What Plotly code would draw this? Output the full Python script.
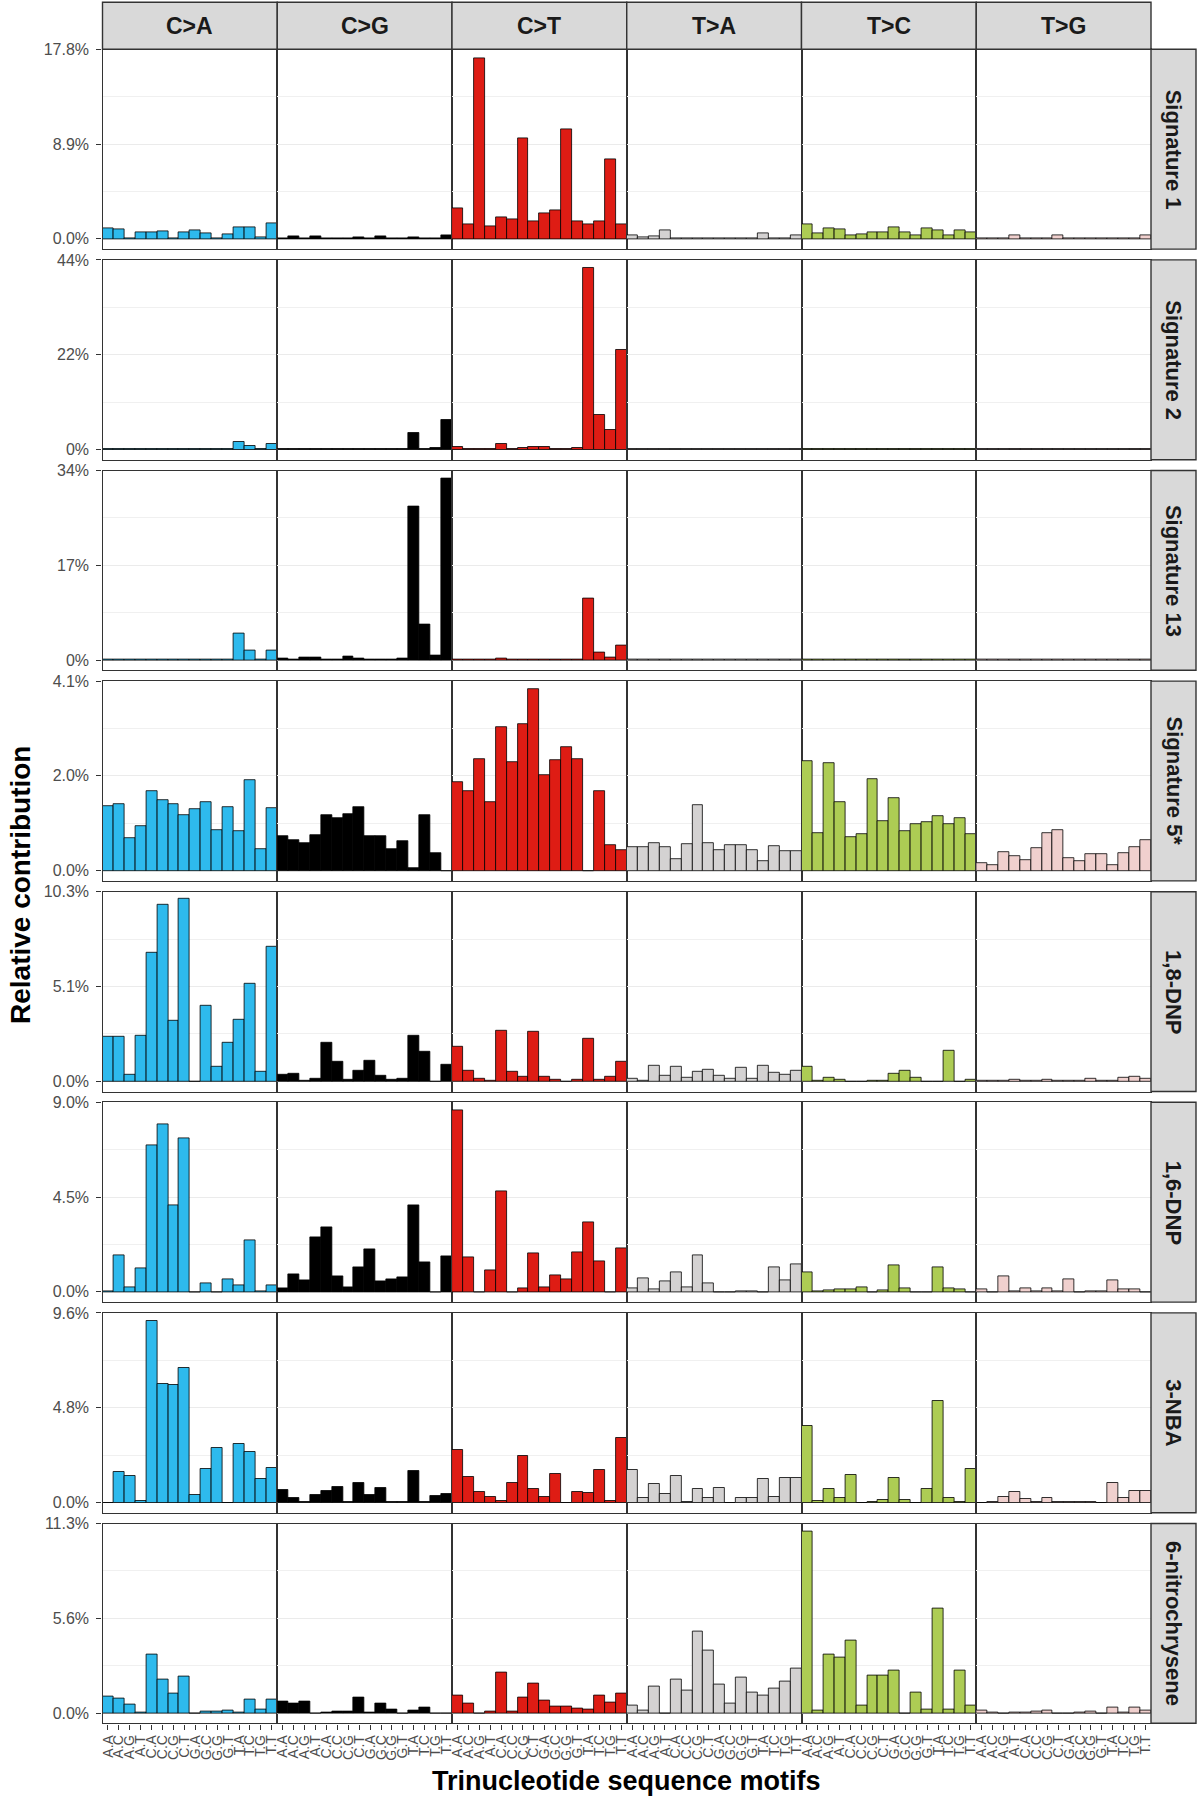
import plotly.graph_objects as go

W, H = 1198, 1800

mut_types = ["C>A", "C>G", "C>T", "T>A", "T>C", "T>G"]
mut_colors = ["#2EBAED", "#000000", "#DE1C14", "#D4D2D2", "#ADCC54", "#F0D0CE"]
contexts = ["A.A", "A.C", "A.G", "A.T", "C.A", "C.C", "C.G", "C.T",
            "G.A", "G.C", "G.G", "G.T", "T.A", "T.C", "T.G", "T.T"]
signatures = ["Signature 1", "Signature 2", "Signature 13", "Signature 5*",
              "1,8-DNP", "1,6-DNP", "3-NBA", "6-nitrochrysene"]
y_max = [17.8, 44, 34, 4.1, 10.3, 9.0, 9.6, 11.3]
y_ticktext = [["0.0%", "8.9%", "17.8%"], ["0%", "22%", "44%"], ["0%", "17%", "34%"],
              ["0.0%", "2.0%", "4.1%"], ["0.0%", "5.1%", "10.3%"], ["0.0%", "4.5%", "9.0%"],
              ["0.0%", "4.8%", "9.6%"], ["0.0%", "5.6%", "11.3%"]]

# relative contribution (%), 96 contexts per signature: C>A, C>G, C>T, T>A, T>C, T>G
sig_1 = [1.0, 0.86, 0.1, 0.57, 0.57, 0.67, 0.06, 0.57, 0.8, 0.5, 0.03, 0.45, 1.1, 1.05, 0.15, 1.5,
         0.1, 0.2, 0.05, 0.25, 0.1, 0.05, 0.05, 0.15, 0.05, 0.2, 0.02, 0.1, 0.12, 0.1, 0.05, 0.3,
         2.87, 1.38, 17.0, 1.14, 2.0, 1.8, 9.43, 1.65, 2.44, 2.71, 10.3, 1.69, 1.38, 1.69, 7.5, 1.34,
         0.3, 0.15, 0.2, 0.85, 0.05, 0.05, 0.05, 0.05, 0.05, 0.05, 0.1, 0.1, 0.55, 0.1, 0.1, 0.3,
         1.37, 0.55, 1.0, 0.92, 0.3, 0.41, 0.57, 0.57, 1.1, 0.57, 0.38, 1.0, 0.8, 0.38, 0.8, 0.57,
         0.1, 0.05, 0.05, 0.35, 0.05, 0.1, 0.1, 0.3, 0.05, 0.05, 0.02, 0.05, 0.05, 0.1, 0.1, 0.35]
sig_2 = [0.1, 0.1, 0.05, 0.1, 0.1, 0.05, 0.05, 0.05, 0.05, 0.05, 0.02, 0.05, 1.65, 0.8, 0.1, 1.25,
         0.05, 0.05, 0.05, 0.1, 0.05, 0.05, 0.05, 0.05, 0.05, 0.05, 0.05, 0.05, 3.84, 0.05, 0.3, 6.8,
         0.7, 0.2, 0.2, 0.2, 1.37, 0.2, 0.4, 0.7, 0.6, 0.2, 0.05, 0.3, 42.2, 8.1, 4.6, 23.0,
         0.1, 0.05, 0.05, 0.1, 0.05, 0.05, 0.05, 0.05, 0.05, 0.05, 0.05, 0.05, 0.05, 0.05, 0.05, 0.05,
         0.1, 0.05, 0.1, 0.1, 0.05, 0.05, 0.05, 0.05, 0.1, 0.05, 0.05, 0.05, 0.05, 0.05, 0.05, 0.05,
         0.05, 0.05, 0.05, 0.05, 0.05, 0.05, 0.05, 0.05, 0.05, 0.05, 0.05, 0.05, 0.05, 0.05, 0.05, 0.05]
sig_13 = [0.1, 0.1, 0.05, 0.15, 0.1, 0.05, 0.1, 0.05, 0.05, 0.05, 0.05, 0.05, 4.7, 1.7, 0.1, 1.8,
          0.36, 0.1, 0.4, 0.5, 0.1, 0.1, 0.6, 0.2, 0.1, 0.1, 0.1, 0.2, 27.6, 6.3, 0.85, 32.6,
          0.1, 0.05, 0.05, 0.05, 0.3, 0.05, 0.05, 0.05, 0.1, 0.1, 0.1, 0.15, 11.0, 1.36, 0.45, 2.65,
          0.1, 0.05, 0.05, 0.1, 0.05, 0.05, 0.05, 0.05, 0.05, 0.05, 0.05, 0.05, 0.05, 0.05, 0.05, 0.1,
          0.05, 0.05, 0.05, 0.05, 0.05, 0.05, 0.05, 0.05, 0.05, 0.05, 0.05, 0.05, 0.05, 0.05, 0.05, 0.05,
          0.05, 0.05, 0.05, 0.05, 0.05, 0.05, 0.05, 0.05, 0.05, 0.05, 0.05, 0.05, 0.05, 0.05, 0.05, 0.05]
sig_5 = [1.40, 1.44, 0.71, 0.96, 1.72, 1.52, 1.45, 1.2, 1.33, 1.48, 0.88, 1.38, 0.85, 1.96, 0.47, 1.35,
         0.74, 0.67, 0.6, 0.76, 1.2, 1.14, 1.23, 1.38, 0.74, 0.74, 0.46, 0.64, 0.05, 1.21, 0.37, 0.0,
         1.91, 1.72, 2.41, 1.48, 3.11, 2.34, 3.18, 3.93, 2.07, 2.39, 2.67, 2.41, 0.0, 1.72, 0.56, 0.44,
         0.51, 0.51, 0.6, 0.51, 0.24, 0.57, 1.41, 0.6, 0.44, 0.55, 0.56, 0.44, 0.2, 0.53, 0.43, 0.42,
         2.36, 0.82, 2.32, 1.48, 0.72, 0.8, 1.97, 1.08, 1.57, 0.85, 1.0, 1.06, 1.19, 1.0, 1.14, 0.8,
         0.17, 0.12, 0.4, 0.31, 0.23, 0.48, 0.82, 0.87, 0.28, 0.2, 0.36, 0.36, 0.13, 0.38, 0.51, 0.67]
dnp_18 = [2.4, 2.4, 0.37, 2.46, 7.0, 9.6, 3.3, 9.91, 0.0, 4.1, 0.78, 2.07, 3.32, 5.3, 0.54, 7.3,
          0.33, 0.42, 0.02, 0.15, 2.1, 1.07, 0.1, 0.59, 1.14, 0.28, 0.1, 0.15, 2.47, 1.6, 0.0, 0.9,
          1.88, 0.55, 0.15, 0.02, 2.73, 0.5, 0.26, 2.68, 0.26, 0.1, 0.0, 0.1, 2.29, 0.1, 0.26, 1.07,
          0.15, 0.04, 0.87, 0.28, 0.78, 0.18, 0.5, 0.65, 0.28, 0.15, 0.74, 0.15, 0.87, 0.46, 0.35, 0.55,
          0.81, 0.04, 0.18, 0.07, 0.0, 0.0, 0.02, 0.02, 0.42, 0.59, 0.18, 0.0, 0.0, 1.66, 0.0, 0.06,
          0.05, 0.02, 0.05, 0.08, 0.02, 0.02, 0.08, 0.05, 0.02, 0.02, 0.15, 0.05, 0.05, 0.2, 0.25, 0.15]
dnp_16 = [0.02, 1.74, 0.2, 1.1, 6.95, 7.95, 4.11, 7.31, 0.0, 0.42, 0.0, 0.61, 0.3, 2.45, 0.05, 0.29,
          0.18, 0.85, 0.56, 2.58, 3.05, 0.74, 0.21, 1.18, 2.0, 0.52, 0.6, 0.68, 4.13, 1.4, 0.0, 1.69,
          8.64, 1.64, 0.0, 1.04, 4.76, 0.0, 0.16, 1.84, 0.2, 0.78, 0.6, 1.9, 3.32, 1.46, 0.0, 2.08,
          0.15, 0.66, 0.1, 0.5, 0.92, 0.21, 1.73, 0.42, 0.0, 0.0, 0.05, 0.03, 0.0, 1.18, 0.56, 1.31,
          0.94, 0.02, 0.08, 0.13, 0.13, 0.21, 0.0, 0.08, 1.26, 0.16, 0.0, 0.0, 1.18, 0.15, 0.11, 0.0,
          0.13, 0.0, 0.74, 0.02, 0.16, 0.05, 0.19, 0.02, 0.6, 0.0, 0.02, 0.02, 0.56, 0.11, 0.11, 0.0]
nba_3 = [0.0, 1.53, 1.35, 0.09, 9.17, 6.0, 5.97, 6.84, 0.39, 1.71, 2.78, 0.0, 2.97, 2.55, 1.17, 1.73,
         0.63, 0.24, 0.05, 0.38, 0.57, 0.79, 0.05, 0.99, 0.36, 0.75, 0.05, 0.02, 1.58, 0.05, 0.34, 0.43,
         2.65, 1.32, 0.53, 0.28, 0.1, 1.0, 2.35, 0.68, 0.26, 1.45, 0.0, 0.51, 0.47, 1.64, 0.1, 3.29,
         1.65, 0.22, 0.94, 0.43, 1.35, 0.05, 0.69, 0.22, 0.74, 0.0, 0.22, 0.22, 1.17, 0.26, 1.25, 1.25,
         3.89, 0.09, 0.69, 0.22, 1.41, 0.0, 0.03, 0.12, 1.25, 0.14, 0.0, 0.69, 5.14, 0.22, 0.05, 1.71,
         0.0, 0.03, 0.26, 0.51, 0.19, 0.03, 0.22, 0.03, 0.05, 0.05, 0.03, 0.0, 0.98, 0.22, 0.57, 0.57]
nitrochrysene_6 = [1.0, 0.84, 0.5, 0.02, 3.52, 2.01, 1.15, 2.19, 0.0, 0.08, 0.08, 0.18, 0.02, 0.8, 0.24, 0.78,
                   0.68, 0.58, 0.7, 0.0, 0.06, 0.12, 0.12, 0.94, 0.02, 0.58, 0.22, 0.0, 0.14, 0.36, 0.0, 0.0,
                   1.07, 0.55, 0.0, 0.1, 2.39, 0.1, 0.95, 1.75, 0.75, 0.4, 0.4, 0.27, 0.2, 1.05, 0.65, 1.15,
                   0.48, 0.14, 1.59, 0.0, 2.01, 1.35, 4.84, 3.74, 1.69, 0.58, 2.13, 1.21, 1.05, 1.45, 1.91, 2.65,
                   10.8, 0.14, 3.5, 3.32, 4.3, 0.44, 2.21, 2.21, 2.55, 0.0, 1.25, 0.24, 6.21, 0.24, 2.55, 0.48,
                   0.18, 0.02, 0.0, 0.06, 0.06, 0.08, 0.14, 0.0, 0.0, 0.06, 0.08, 0.0, 0.34, 0.06, 0.34, 0.14]

profiles = [sig_1, sig_2, sig_13, sig_5, dnp_18, dnp_16, nba_3, nitrochrysene_6]

# ---------------- layout geometry (pixels) ----------------
FONT = "Liberation Sans, Arial, sans-serif"
col_left, col_w = 102.5, 174.75
row_top0, row_step, panel_h = 49.3, 210.6, 199.8
strip_top, strip_bot = 2.3, 49.3
rstrip_l, rstrip_r = 1151.0, 1196.0
BORDER = "#333333"


def px_x(x):
    return x / W


def px_y(y):
    return 1 - y / H


fig = go.Figure()
layout = {}
n_rows, n_cols = len(signatures), len(mut_types)

for r in range(n_rows):
    m = y_max[r]
    y_top = row_top0 + r * row_step
    y_bot = y_top + panel_h
    for c in range(n_cols):
        k = r * n_cols + c + 1
        sfx = "" if k == 1 else str(k)
        vals = profiles[r][c * 16:(c + 1) * 16]
        fig.add_trace(go.Bar(
            x=list(range(16)), y=vals, width=1.0,
            marker=dict(color=mut_colors[c], line=dict(color="#000000", width=0.8)),
            xaxis="x" + sfx, yaxis="y" + sfx, showlegend=False, hoverinfo="skip"))
        x0 = col_left + c * col_w
        bottom_row = (r == n_rows - 1)
        layout["xaxis" + sfx] = dict(
            domain=[px_x(x0), px_x(x0 + col_w)], anchor="y" + sfx, automargin=False,
            range=[-0.5, 15.5], tickvals=list(range(16)), ticktext=contexts,
            showticklabels=bottom_row, ticks="outside" if bottom_row else "",
            ticklen=5, tickwidth=1.1, tickcolor=BORDER, tickangle=-90,
            tickfont=dict(family=FONT, size=14, color="#4D4D4D"),
            showline=True, mirror=True, linecolor=BORDER, linewidth=1.4,
            showgrid=False, zeroline=False, fixedrange=True)
        first_col = (c == 0)
        layout["yaxis" + sfx] = dict(
            domain=[px_y(y_bot), px_y(y_top)], anchor="x" + sfx, automargin=False,
            range=[-0.054 * m, m], tickvals=[0, m / 2, m], ticktext=y_ticktext[r],
            showticklabels=first_col, ticks="outside" if first_col else "",
            ticklen=5, tickwidth=1.1, tickcolor=BORDER, ticklabelstandoff=4,
            tickfont=dict(family=FONT, size=16, color="#4D4D4D"),
            showline=True, mirror=True, linecolor=BORDER, linewidth=1.4,
            showgrid=True, gridcolor="#EBEBEB", gridwidth=1.4,
            minor=dict(tickvals=[m / 4, 3 * m / 4], showgrid=True,
                       gridcolor="#F0F0F0", gridwidth=1.1, ticks=""),
            zeroline=False, fixedrange=True)

shapes, annotations = [], []
# top strips
for c, mt in enumerate(mut_types):
    x0 = col_left + c * col_w
    shapes.append(dict(type="rect", xref="paper", yref="paper",
                       x0=px_x(x0), x1=px_x(x0 + col_w), y0=px_y(strip_bot), y1=px_y(strip_top),
                       fillcolor="#D9D9D9", line=dict(color=BORDER, width=1.4), layer="above"))
    annotations.append(dict(xref="paper", yref="paper", x=px_x(x0 + col_w / 2),
                            y=px_y((strip_top + strip_bot) / 2), text="<b>%s</b>" % mt,
                            showarrow=False, xanchor="center", yanchor="middle",
                            font=dict(family=FONT, size=23, color="#1A1A1A")))
# right strips
for r, name in enumerate(signatures):
    y_top = row_top0 + r * row_step
    y_bot = y_top + panel_h
    shapes.append(dict(type="rect", xref="paper", yref="paper",
                       x0=px_x(rstrip_l), x1=px_x(rstrip_r), y0=px_y(y_bot), y1=px_y(y_top),
                       fillcolor="#D9D9D9", line=dict(color=BORDER, width=1.4), layer="above"))
    annotations.append(dict(xref="paper", yref="paper", x=px_x((rstrip_l + rstrip_r) / 2),
                            y=px_y((y_top + y_bot) / 2), text="<b>%s</b>" % name,
                            showarrow=False, textangle=90, xanchor="center", yanchor="middle",
                            font=dict(family=FONT, size=22, color="#1A1A1A")))

# axis titles
annotations.append(dict(xref="paper", yref="paper", x=px_x((col_left + rstrip_l) / 2), y=px_y(1781),
                        text="<b>Trinucleotide sequence motifs</b>", showarrow=False,
                        xanchor="center", yanchor="middle",
                        font=dict(family=FONT, size=27, color="#000000")))
annotations.append(dict(xref="paper", yref="paper", x=px_x(20), y=px_y(885),
                        text="<b>Relative contribution</b>", showarrow=False, textangle=-90,
                        xanchor="center", yanchor="middle",
                        font=dict(family=FONT, size=28, color="#000000")))

fig.update_layout(**layout)
fig.update_layout(width=W, height=H, margin=dict(l=0, r=0, t=0, b=0, autoexpand=False),
                  paper_bgcolor="white", plot_bgcolor="white", bargap=0,
                  showlegend=False, shapes=shapes, annotations=annotations)

fig.write_html("out.html", config={"displayModeBar": False},
               post_script="document.body.style.margin='0px';document.body.style.overflow='hidden';")
